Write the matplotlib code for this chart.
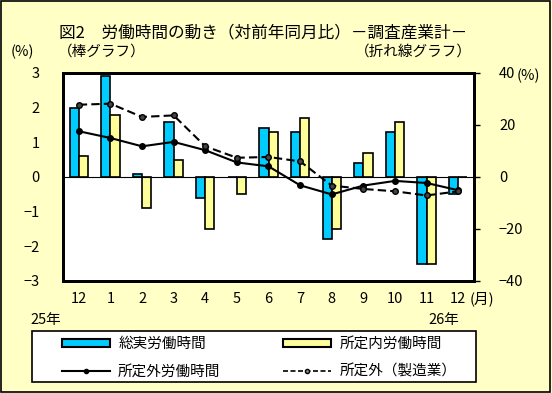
import matplotlib
matplotlib.use('Agg')
import matplotlib.pyplot as plt
from matplotlib.patches import Rectangle, Patch
from matplotlib.lines import Line2D
import numpy as np

plt.rcParams['font.family'] = ['Noto Sans CJK JP', 'DejaVu Sans']

# ---------------- Data ----------------
months = ['12', '1', '2', '3', '4', '5', '6', '7', '8', '9', '10', '11', '12']
total_hours = [2.0, 2.9, 0.1, 1.6, -0.6, 0.0, 1.4, 1.3, -1.8, 0.4, 1.3, -2.5, -0.5]      # 総実労働時間
scheduled_hours = [0.6, 1.8, -0.9, 0.5, -1.5, -0.5, 1.3, 1.7, -1.5, 0.7, 1.6, -2.5, 0.0]  # 所定内労働時間
overtime = [17.6, 15.0, 11.8, 13.5, 10.3, 5.6, 4.1, -3.2, -6.7, -3.3, -1.5, -2.3, -5.1]   # 所定外労働時間
overtime_mfg = [27.8, 28.2, 23.1, 23.7, 11.8, 7.4, 7.7, 6.0, -3.3, -4.6, -5.5, -7.1, -5.5]  # 所定外(製造業)

bg = '#FFFFC6'
blue = '#00CCFF'
yellow = '#FFFF99'

fig = plt.figure(figsize=(5.52, 3.93), dpi=100, facecolor=bg)
ax = fig.add_axes([63/552, 1-281/393, 411/552, 208/393])
ax2 = ax.twinx()

x = np.arange(len(months))
w = 0.29
ax.bar(x - w/2, total_hours, w, color=blue, edgecolor='black', linewidth=1.2, zorder=2)
ax.bar(x + w/2, scheduled_hours, w, color=yellow, edgecolor='black', linewidth=1.2, zorder=2)
ax.axhline(0, color='black', linewidth=0.8, zorder=3)

ax.set_xlim(-0.5, len(months) - 0.5)
ax.set_ylim(-3, 3)
ax.set_yticks(range(-3, 4))
ax.set_yticklabels(['−3', '−2', '−1', '0', '1', '2', '3'], fontsize=10.5)
ax.set_xticks(x)
ax.set_xticklabels(months, fontsize=10.5)
ax.tick_params(axis='x', length=0, pad=8)
ax.tick_params(axis='y', length=0, pad=17)
ax.set_facecolor('white')
for s in ax.spines.values():
    s.set_linewidth(2)

ax2.plot(x, overtime, color='black', linewidth=1.5, marker='o', markersize=4, zorder=4)
ax2.plot(x, overtime_mfg, color='black', linewidth=1.5, linestyle=(0, (4, 2)), marker='o',
         markersize=4, markerfacecolor='#444444', zorder=4)
ax2.set_ylim(-40, 40)
ax2.set_yticks([-40, -20, 0, 20, 40])
ax2.set_yticklabels(['−40', '−20', '0', '20', '40'], fontsize=10.5, style='italic')
ax2.tick_params(axis='y', length=4, width=1, direction='out', pad=14)
for s in ax2.spines.values():
    s.set_linewidth(2)

# ---------------- Texts ----------------
fig.text(263/552, 1-33/393, '図2　労働時間の動き（対前年同月比）－調査産業計－', fontsize=12,
         ha='center', va='center')
fig.text(22/552, 1-52/393, '(%)', fontsize=10.5, ha='center', va='center')
fig.text(58/552, 1-52/393, '（棒グラフ）', fontsize=10.5, ha='left', va='center')
fig.text(472/552, 1-52/393, '（折れ線グラフ）', fontsize=10.5, ha='right', va='center')
fig.text(528/552, 1-76/393, '(%)', fontsize=10.5, ha='center', va='center')
fig.text(482/552, 1-299/393, '(月)', fontsize=10.5, ha='center', va='center')
fig.text(46/552, 1-320/393, '25年', fontsize=10.5, ha='center', va='center')
fig.text(444/552, 1-320/393, '26年', fontsize=10.5, ha='center', va='center')

# ---------------- Legend ----------------
fig.patches.append(Rectangle((32/552, 1-382/393), 444/552, 51/393, transform=fig.transFigure,
                             facecolor='white', edgecolor='black', linewidth=1.2, zorder=1))
handles = [
    Patch(facecolor=blue, edgecolor='black', linewidth=1.5),
    Line2D([], [], color='black', linewidth=1.5, marker='o', markersize=3),
    Patch(facecolor=yellow, edgecolor='black', linewidth=1.5),
    Line2D([], [], color='black', linewidth=1.2, linestyle=(0, (3, 1.5)), marker='o', markersize=3,
           markerfacecolor='#888888'),
]
labels = ['総実労働時間', '所定外労働時間', '所定内労働時間', '所定外（製造業）']
leg = fig.legend(handles, labels, ncol=2, loc='upper left',
                 bbox_to_anchor=(62/552, 1-337/393),
                 fontsize=10.5, frameon=False, borderpad=0, borderaxespad=0,
                 handlelength=3.3, handleheight=0.45, columnspacing=4.3,
                 labelspacing=0.95, handletextpad=0.55)
leg.set_zorder(2)

fig.patches.append(Rectangle((0.002, 0.003), 0.995, 0.994, transform=fig.transFigure,
                             fill=False, edgecolor='black', linewidth=1.2))

plt.savefig('out.png', dpi=100, facecolor=bg)
